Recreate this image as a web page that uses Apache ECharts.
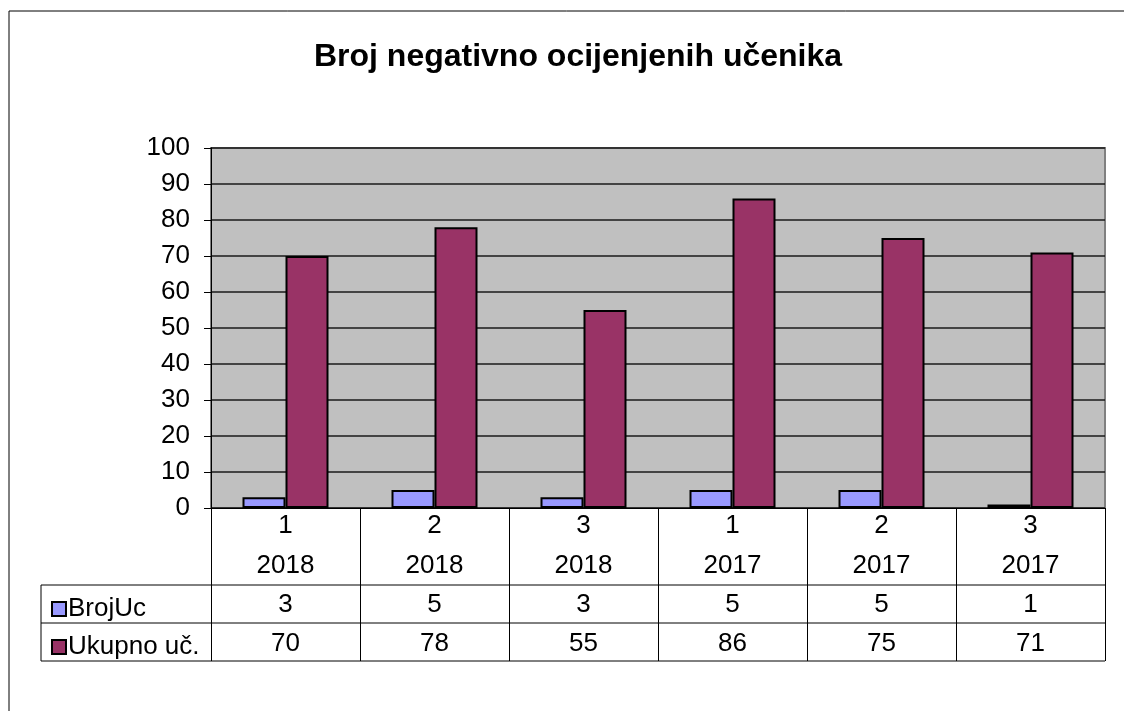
<!DOCTYPE html>
<html>
<head>
<meta charset="utf-8">
<script src="https://cdn.jsdelivr.net/npm/echarts@6/dist/echarts.min.js"></script>
<style>
html, body { margin: 0; padding: 0; background: #fff; }
#main { width: 1124px; height: 711px; }
</style>
</head>
<body>
<div id="main"></div>
<script>
// podaci
var periods = ['1', '2', '3', '1', '2', '3'];
var years = ['2018', '2018', '2018', '2017', '2017', '2017'];
var brojUc = [3, 5, 3, 5, 5, 1];
var ukupno = [70, 78, 55, 86, 75, 71];
var seriesNames = ['BrojUc', 'Ukupno uč.'];
var yTicks = [0, 10, 20, 30, 40, 50, 60, 70, 80, 90, 100];

var font = 'Liberation Sans, Arial, sans-serif';
var fs = 26;
var gridLeft = 211, gridTop = 148, gridW = 894, gridH = 360;
var gridBottom = gridTop + gridH;
var tableLeft = 41, rowH = 38, headH = 77;
var row1 = gridBottom + headH, row2 = row1 + rowH, row3 = row2 + rowH;

var categories = periods.map(function(p, i) { return p + '\n' + years[i]; });

function hline(x1, x2, y) {
	return { type: 'line', shape: { x1: x1, y1: y, x2: x2, y2: y }, style: { stroke: '#000', lineWidth: 1 }, z: 10 };
}
function vline(x, y1, y2) {
	return { type: 'line', shape: { x1: x, y1: y1, x2: x, y2: y2 }, style: { stroke: '#000', lineWidth: 1 }, z: 10 };
}

var myChart = echarts.init(document.getElementById('main'));
var option = {
	backgroundColor: '#fff',
	animation: false,
	title: {
		text: 'Broj negativno ocijenjenih učenika',
		left: 573,
		textAlign: 'center',
		top: 36,
		textStyle: { fontFamily: font, fontSize: 32, fontWeight: 'bold', color: '#000' }
	},
	legend: {
		orient: 'vertical',
		left: 46,
		top: row1 + 6,
		icon: 'rect',
		itemWidth: 14,
		itemHeight: 14,
		itemGap: 12,
		data: seriesNames,
		textStyle: { fontFamily: font, fontSize: fs, color: '#000', padding: [0, 0, 0, -3], lineHeight: 26 }
	},
	grid: {
		left: gridLeft, top: gridTop, width: gridW, height: gridH,
		show: true, backgroundColor: '#c0c0c0', borderColor: '#808080', borderWidth: 2
	},
	xAxis: [{
		type: 'category',
		data: categories,
		axisLine: { lineStyle: { color: '#000', width: 1 } },
		axisTick: { show: true, length: headH + 2 * rowH, lineStyle: { color: '#000', width: 1 } },
		axisLabel: { fontFamily: font, fontSize: fs, color: '#000', lineHeight: 40, margin: 0, padding: [-2, 0, 0, 0], interval: 0 }
	}, {
		type: 'category',
		data: brojUc.map(String),
		position: 'bottom',
		offset: headH,
		axisLine: { show: false },
		axisTick: { show: false },
		axisLabel: { fontFamily: font, fontSize: fs, color: '#000', margin: 7, interval: 0 }
	}, {
		type: 'category',
		data: ukupno.map(String),
		position: 'bottom',
		offset: headH + rowH,
		axisLine: { show: false },
		axisTick: { show: false },
		axisLabel: { fontFamily: font, fontSize: fs, color: '#000', margin: 8, interval: 0 }
	}],
	yAxis: {
		type: 'value',
		min: yTicks[0],
		max: yTicks[yTicks.length - 1],
		interval: yTicks[1] - yTicks[0],
		axisLine: { show: true, lineStyle: { color: '#000', width: 1 } },
		axisTick: { show: true, length: 7, lineStyle: { color: '#000' } },
		axisLabel: { fontFamily: font, fontSize: fs, color: '#000', margin: 21 },
		splitLine: { lineStyle: { color: '#1a1a1a', width: 1.5 } }
	},
	series: [{
		name: seriesNames[0],
		type: 'bar',
		data: brojUc,
		barWidth: 43,
		barGap: '0%',
		itemStyle: { color: '#9999ff', borderColor: '#000', borderWidth: 2 }
	}, {
		name: seriesNames[1],
		type: 'bar',
		data: ukupno,
		barWidth: 43,
		barGap: '0%',
		itemStyle: { color: '#993366', borderColor: '#000', borderWidth: 2 }
	}],
	graphic: [
		hline(9, 1124, 11),
		vline(9, 11, 711),
		hline(tableLeft, gridLeft + gridW, row1),
		hline(tableLeft, gridLeft + gridW, row2),
		hline(tableLeft, gridLeft + gridW, row3),
		vline(tableLeft, row1, row3)
	]
};
myChart.setOption(option);
</script>
</body>
</html>
